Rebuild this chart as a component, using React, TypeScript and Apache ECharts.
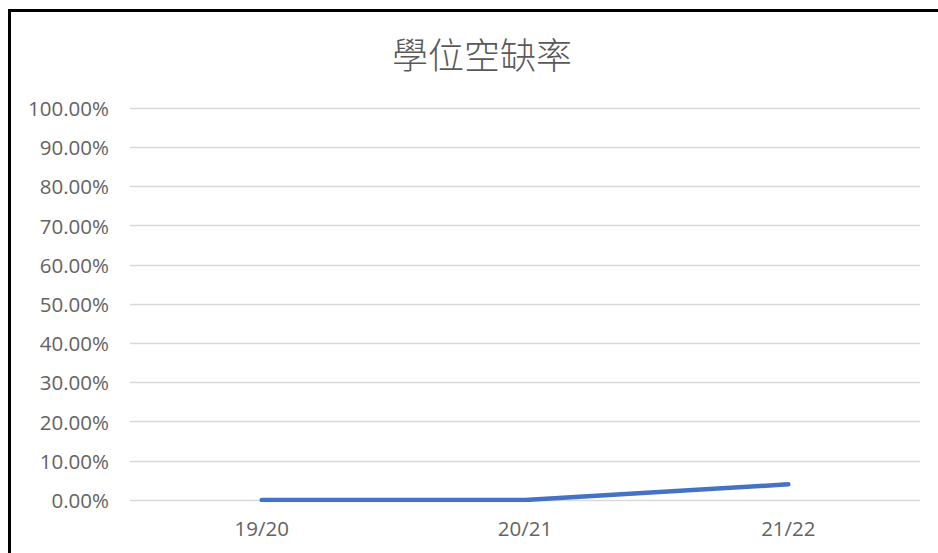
import React, { useEffect, useRef } from "react";
import * as echarts from "echarts";

const categories = ["19/20", "20/21", "21/22"];
const vacancyRate = [0, 0, 4.0];
const titleText = "學位空缺率";

export default function App() {
  const ref = useRef<HTMLDivElement>(null);
  useEffect(() => {
    if (!ref.current) return;
    const chart = echarts.init(ref.current, undefined, { renderer: "svg" });
    chart.setOption({
      animation: false,
      backgroundColor: "#ffffff",
      title: {
        text: titleText,
        left: 477,
        textAlign: "center",
        top: 30,
        textStyle: {
          fontFamily: "'Noto Sans CJK TC', sans-serif",
          fontSize: 36,
          fontWeight: 300,
          color: "#595959",
        },
      },
      graphic: [
        { type: "rect", shape: { x: 8, y: 9, width: 3, height: 544 }, style: { fill: "#000" } },
        { type: "rect", shape: { x: 8, y: 9, width: 930, height: 3 }, style: { fill: "#000" } },
      ],
      grid: { left: 130, right: 18, top: 108, bottom: 53, containLabel: false },
      xAxis: {
        type: "category",
        data: categories,
        boundaryGap: true,
        axisLine: { show: false },
        axisTick: { show: false },
        axisLabel: {
          margin: 17,
          fontFamily: "'Open Sans', sans-serif",
          fontSize: 20.5,
          color: "#636363",
        },
      },
      yAxis: {
        type: "value",
        min: 0,
        max: 100,
        interval: 10,
        axisLine: { show: false },
        axisTick: { show: false },
        splitLine: { lineStyle: { color: "#d9d9d9", width: 1.3 } },
        axisLabel: {
          margin: 21,
          fontFamily: "'Open Sans', sans-serif",
          fontSize: 20.5,
          color: "#636363",
          formatter: (v: number) => v.toFixed(2) + "%",
        },
      },
      series: [
        {
          type: "line",
          data: vacancyRate,
          showSymbol: false,
          symbol: "none",
          lineStyle: { color: "#4472C4", width: 4.5, cap: "round", join: "round" },
        },
      ],
    });
    return () => chart.dispose();
  }, []);
  return (
    <div
      ref={ref}
      style={{ position: "fixed", left: 0, top: 0, width: 938, height: 553 }}
    />
  );
}
